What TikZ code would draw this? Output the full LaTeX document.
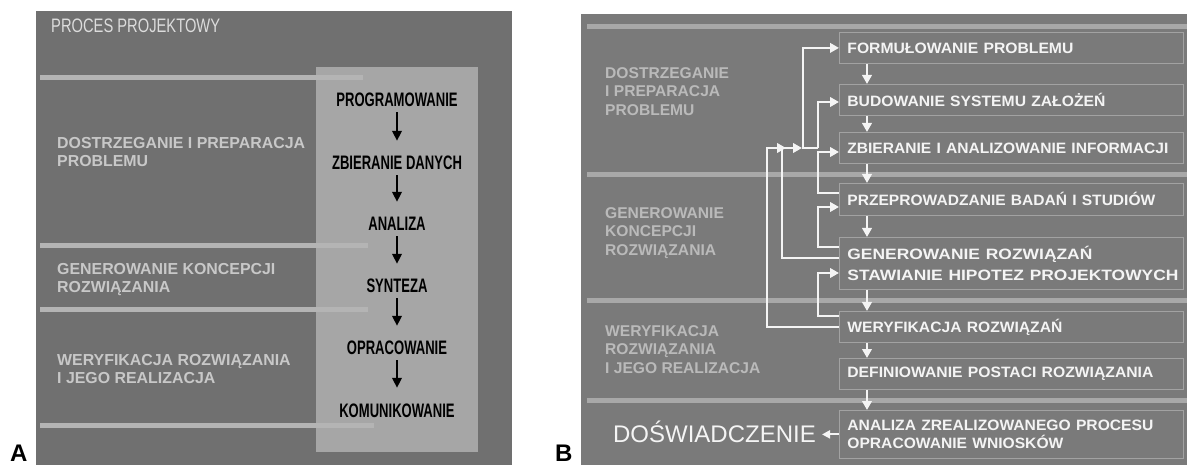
\documentclass[tikz,border=0pt]{standalone}
\usepackage{fontspec}
\usepackage{graphicx}
\setmainfont{Liberation Sans}
\newfontfamily\condfont[FakeStretch=0.67]{Liberation Sans}
\usetikzlibrary{arrows.meta,calc}
\newsavebox\fitbox
\newcommand\fitto[2]{\sbox\fitbox{#2}\pgfmathsetmacro\fitsc{#1/\the\wd\fitbox}\scalebox{\fitsc}[1]{\usebox\fitbox}}
\definecolor{abg}{HTML}{707070}
\definecolor{abox}{HTML}{A6A6A6}
\definecolor{abar}{HTML}{B4B4B4}
\definecolor{alabel}{HTML}{C8C8C8}
\definecolor{atitle}{HTML}{DCDCDC}
\definecolor{bbg}{HTML}{7A7A7A}
\definecolor{bbar}{HTML}{A8A8A8}
\definecolor{bline}{HTML}{A2A2A2}
\definecolor{btext}{HTML}{F4F4F4}
\definecolor{blabel}{HTML}{BABABA}
\tikzset{
  coltext/.style={inner sep=0pt, text height=14pt, text depth=0pt, text=black,
    font=\condfont\bfseries\fontsize{19.5}{19.5}\selectfont},
  barr/.style={draw=black, line width=2pt, shorten <=5pt, shorten >=15pt,
    -{Triangle[length=10pt,width=9.5pt]}},
  alab/.style={anchor=north west, inner sep=0pt, align=left, text=alabel,
    font=\bfseries\fontsize{15.9}{18}\selectfont},
  blab/.style={anchor=north west, inner sep=0pt, align=left, text=blabel,
    font=\bfseries\fontsize{15.6}{18.5}\selectfont},
  bbox/.style={draw=bline, line width=0.8pt, anchor=north west, text width=328pt,
    inner xsep=8pt, inner ysep=0pt, align=left, text=btext,
    font=\bfseries\fontsize{15}{18}\selectfont},
  wline/.style={draw=btext, line width=2.2pt},
  warr/.style={draw=btext, line width=2.2pt, -{Triangle[length=9pt,width=9.5pt]}},
}
\begin{document}
\begin{tikzpicture}[x=1pt,y=-1pt]
\useasboundingbox[fill=white] (0,0) rectangle (1187,465);
% ---------------- panel A ----------------
\fill[abg] (36,11) rectangle (512,465);
\fill[abox] (316,67) rectangle (478,452);
\fill[abar] (40,75) rectangle (363,80);
\fill[abar] (40,243) rectangle (368,248);
\fill[abar] (40,307) rectangle (368,312);
\fill[abar] (40,423) rectangle (374,428);
\node[anchor=base west, inner sep=0pt, text=atitle,
  font=\fontsize{19.5}{19.5}\selectfont] (title) at (51,33) {\fitto{169}{PROCES PROJEKTOWY}};
\node[alab] (la1) at (57,137) {DOSTRZEGANIE I PREPARACJA\\PROBLEMU};
\node[alab] (la2) at (57,263) {GENEROWANIE KONCEPCJI\\ROZWIĄZANIA};
\node[alab] (la3) at (57,354) {WERYFIKACJA ROZWIĄZANIA\\I JEGO REALIZACJA};
\node[coltext] (c1) at (397,100) {PROGRAMOWANIE};
\node[coltext] (c2) at (397,163) {ZBIERANIE DANYCH};
\node[coltext] (c3) at (397,224) {ANALIZA};
\node[coltext] (c4) at (397,286) {SYNTEZA};
\node[coltext] (c5) at (397,348) {OPRACOWANIE};
\node[coltext] (c6) at (397,410) {KOMUNIKOWANIE};
\draw[barr] (c1.south) -- (c2.north);
\draw[barr] (c2.south) -- (c3.north);
\draw[barr] (c3.south) -- (c4.north);
\draw[barr] (c4.south) -- (c5.north);
\draw[barr] (c5.south) -- (c6.north);
\node[anchor=base west, inner sep=0pt, font=\bfseries\fontsize{24}{24}\selectfont] (lA) at (10,461) {A};
% ---------------- panel B ----------------
\fill[bbg] (581,14) rectangle (1187,465);
\fill[bbar] (587,24) rectangle (1187,29);
\fill[bbar] (587,172) rectangle (1187,177);
\fill[bbar] (587,298) rectangle (1187,303);
\fill[bbar] (587,398) rectangle (1187,403);
\node[anchor=base west, inner sep=0pt, font=\bfseries\fontsize{24}{24}\selectfont] (lB) at (555,461) {B};
\node[blab] (lb1) at (605,67) {DOSTRZEGANIE\\I PREPARACJA\\PROBLEMU};
\node[blab] (lb2) at (605,207) {GENEROWANIE\\KONCEPCJI\\ROZWIĄZANIA};
\node[blab] (lb3) at (605,325) {WERYFIKACJA\\ROZWIĄZANIA\\I JEGO REALIZACJA};
\node[bbox, minimum height=31pt] (form) at (839,32) {\fitto{226}{FORMUŁOWANIE PROBLEMU}};
\node[bbox, minimum height=31pt] (bud) at (839,84) {\fitto{258}{BUDOWANIE SYSTEMU ZAŁOŻEŃ}};
\node[bbox, minimum height=31pt] (zbi) at (839,132) {\fitto{321}{ZBIERANIE I ANALIZOWANIE INFORMACJI}};
\node[bbox, minimum height=32pt] (prz) at (839,183) {\fitto{308}{PRZEPROWADZANIE BADAŃ I STUDIÓW}};
\node[bbox, minimum height=52pt, font=\bfseries\fontsize{15}{21}\selectfont] (gen) at (839,237)
  {\fitto{245}{GENEROWANIE ROZWIĄZAŃ}\\\fitto{331}{STAWIANIE HIPOTEZ PROJEKTOWYCH}};
\node[bbox, minimum height=31pt] (wer) at (839,311) {\fitto{215}{WERYFIKACJA ROZWIĄZAŃ}};
\node[bbox, minimum height=31pt] (def) at (839,358) {\fitto{306}{DEFINIOWANIE POSTACI ROZWIĄZANIA}};
\node[bbox, minimum height=48pt] (ana) at (839,410)
  {\fitto{306}{ANALIZA ZREALIZOWANEGO PROCESU}\\\fitto{216}{OPRACOWANIE WNIOSKÓW}};
\node[anchor=base east, inner sep=0pt, text height=17pt, text depth=0pt, text=btext,
  font=\fontsize{24}{24}\selectfont] (dosw) at (816,442) {DOŚWIADCZENIE};
% vertical arrows
\foreach \a/\b in {form/bud, bud/zbi, zbi/prz, prz/gen, gen/wer, wer/def, def/ana}
  \draw[warr] ($(\a.south west)+(28,0)$) -- ($(\b.north west)+(28,0)$);
% feedback loops
\coordinate (ja) at (767,148);
\coordinate (ta) at (786,148);
\coordinate (jb) at (782,148);
\coordinate (tb) at (802,148);
\coordinate (jc) at (803,148);
\coordinate (jd) at (818,148);
\draw[warr] ($(wer.north west)+(0,16)$) -| (ja) -- (ta);
\draw[warr] ($(gen.north west)+(0,21)$) -| (jb) -- (tb);
\draw[wline] (tb) -- (jd);
\draw[warr] (jc) |- (form.west);
\draw[warr] (jd) |- ($(bud.north west)+(0,18)$);
\draw[warr] ($(prz.north west)+(0,10)$) -- ++(-21,0) |- ($(zbi.north west)+(0,20)$);
\draw[warr] ($(gen.north west)+(0,10)$) -- ++(-21,0) |- ($(prz.north west)+(0,24)$);
\draw[warr] ($(wer.north west)+(0,5)$) -- ++(-21,0) |- ($(gen.north west)+(0,36)$);
\draw[draw=btext, line width=2pt, shorten >=6pt, -{Triangle[length=8pt,width=8pt]}]
  (ana.west) -- (ana.west -| dosw.east);
\end{tikzpicture}
\end{document}
